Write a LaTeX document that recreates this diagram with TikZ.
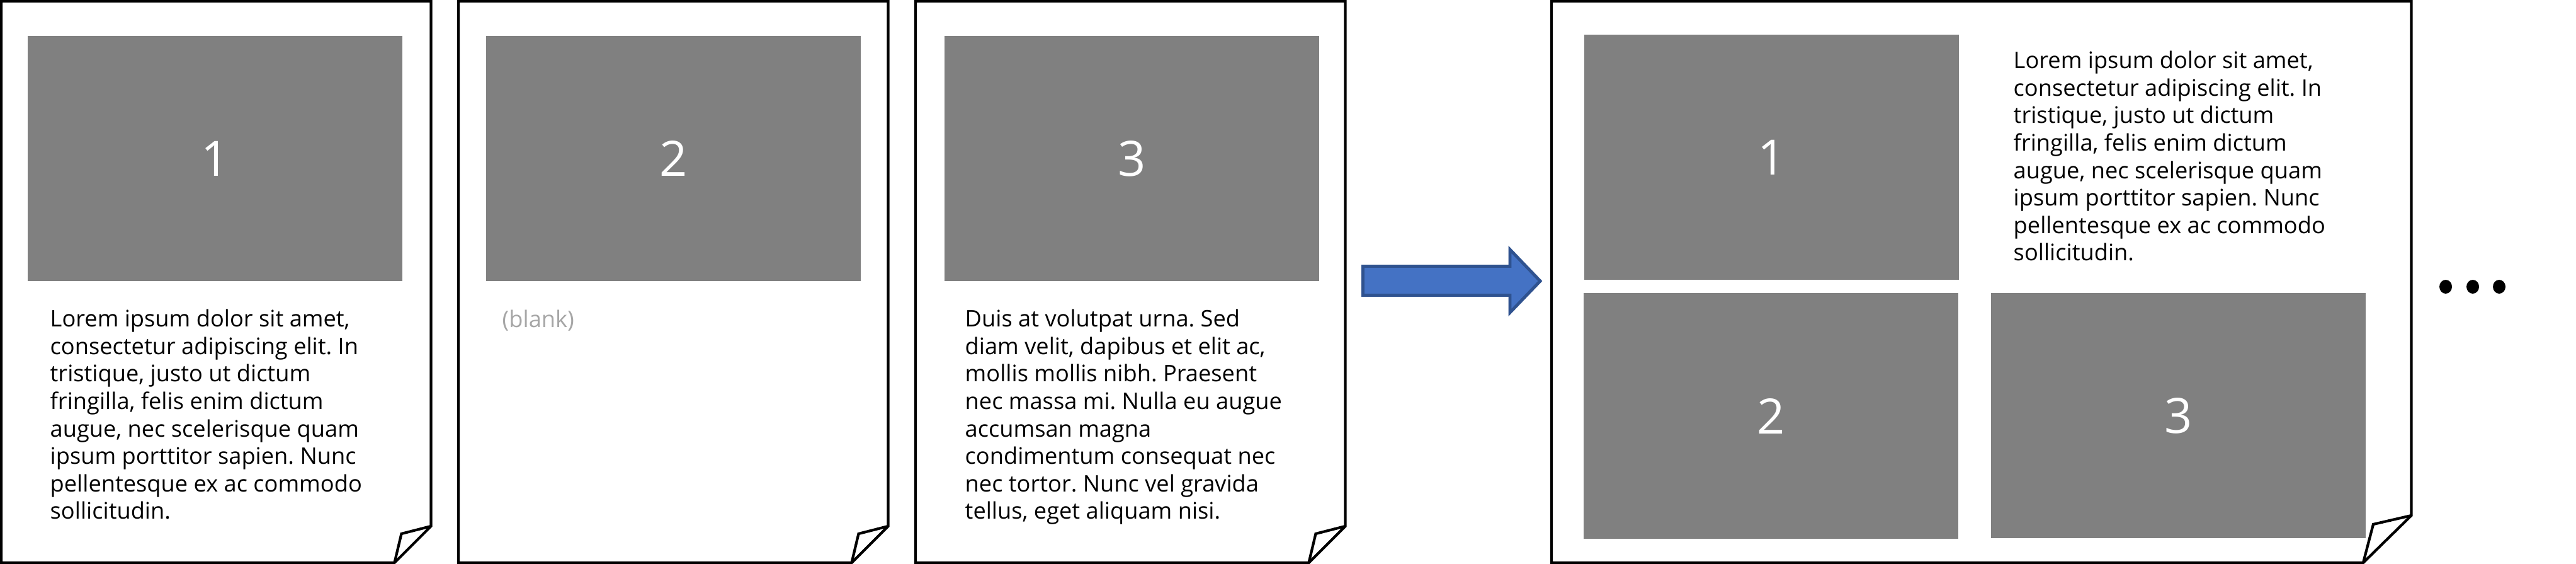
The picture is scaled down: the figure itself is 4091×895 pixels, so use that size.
\documentclass[tikz,border=0pt]{standalone}
\usepackage{fontspec}
\setmainfont{Open Sans}
\frenchspacing
\usetikzlibrary{positioning}
\definecolor{imggray}{RGB}{128, 128, 128}
\definecolor{blankgray}{RGB}{166, 166, 166}
\definecolor{arrowfill}{RGB}{68, 114, 196}
\definecolor{arrowedge}{RGB}{47, 82, 143}

\tikzset{
  pageline/.style={line width=1.2pt, line join=miter},
  imgbox/.style={fill=imggray, text=white, inner sep=0pt, minimum width=5.95cm, minimum height=3.89cm, font=\fontsize{22}{26}\selectfont},
  bodytext/.style={align=left, inner sep=0pt, anchor=north west, font=\fontsize{10.3}{12.4}\selectfont}
}

\begin{document}
\begin{tikzpicture}[x=0.01cm, y=-0.01cm]
  \useasboundingbox (0, 0) rectangle (4091, 895);

  % Single pages with folded corner
  \foreach \l/\r in {2/684.5, 728/1410.5, 1454/2136.5} {
    \draw[pageline] (\l, 2) -- (\r, 2) -- (\r, 835) -- (\r-58, 893) -- (\l, 893) -- cycle;
    \draw[pageline] (\r, 835) -- (\r-47, 847) -- (\r-58, 893);
  }

  % Images on the single pages
  \node[imgbox] (imgA) at (341.5, 251.5) {1};
  \node[imgbox] (imgB) at (1069.5, 251.5) {2};
  \node[imgbox] (imgC) at (1797.5, 251.5) {3};

  \node[bodytext] (textA) at (79, 490.5) {Lorem ipsum dolor sit amet,\\consectetur adipiscing elit. In\\tristique, justo ut dictum\\fringilla, felis enim dictum\\augue, nec scelerisque quam\\ipsum porttitor sapien. Nunc\\pellentesque ex ac commodo\\sollicitudin.};
  \node[bodytext, text=blankgray] (textB) at (797, 491) {(blank)};
  \node[bodytext] (textC) at (1532, 490.5) {Duis at volutpat urna. Sed\\diam velit, dapibus et elit ac,\\mollis mollis nibh. Praesent\\nec massa mi. Nulla eu augue\\accumsan magna\\condimentum consequat nec\\nec tortor. Nunc vel gravida\\tellus, eget aliquam nisi.};

  % Block arrow
  \draw[line width=1.4pt, draw=arrowedge, fill=arrowfill, line join=miter]
    (2164.5, 422.5) -- (2398, 422.5) -- (2398, 396) -- (2446, 446) -- (2398, 496) -- (2398, 468.5) -- (2164.5, 468.5) -- cycle;

  % Combined page
  \draw[pageline] (2464, 2) -- (3829.5, 2) -- (3829.5, 818) -- (3753, 893) -- (2464, 893) -- cycle;
  \draw[pageline] (3829.5, 818) -- (3769, 832) -- (3753, 893);

  \node[imgbox] (imgD) at (2813.5, 249.5) {1};
  \node[imgbox] (imgE) at (2812.5, 660) {2};
  \node[imgbox] (imgF) at (3459.5, 659.5) {3};

  \node[bodytext] (textD) at (3197, 80.5) {Lorem ipsum dolor sit amet,\\consectetur adipiscing elit. In\\tristique, justo ut dictum\\fringilla, felis enim dictum\\augue, nec scelerisque quam\\ipsum porttitor sapien. Nunc\\pellentesque ex ac commodo\\sollicitudin.};

  % More pages follow
  \foreach \x in {3884, 3927, 3969}
    \fill (\x, 455) ellipse (10 and 11);
\end{tikzpicture}
\end{document}
